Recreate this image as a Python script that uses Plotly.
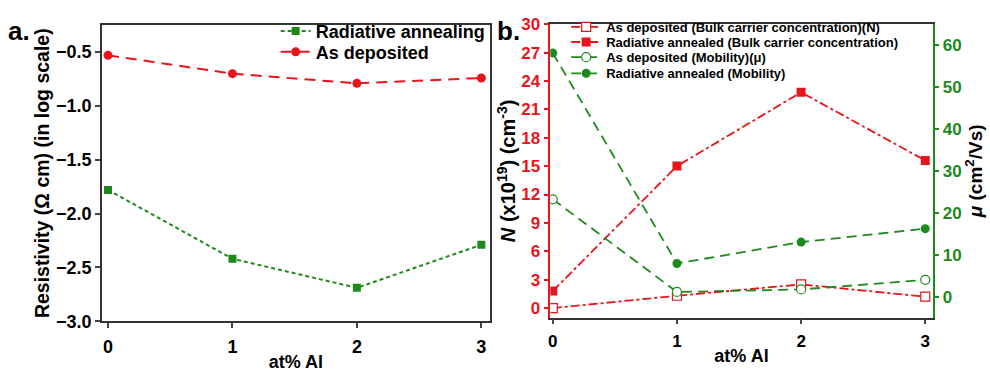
import plotly.graph_objects as go

# Al content (at%)
al_pct = [0, 1, 2, 3]

# Panel a: resistivity, log10(Ω cm)
rho_annealed = [-1.78, -2.42, -2.69, -2.29]
rho_deposited = [-0.53, -0.70, -0.79, -0.74]

# Panel b: bulk carrier concentration (x10^19 cm^-3) and mobility (cm^2/Vs)
n_deposited = [0.0, 1.3, 2.5, 1.2]
n_annealed = [1.8, 15.0, 22.8, 15.6]
mu_deposited = [23.2, 1.1, 1.7, 4.0]
mu_annealed = [58.1, 7.9, 13.0, 16.2]

RED = "#e8141c"
GREEN = "#1e8a1e"
FONT = "Liberation Sans, Arial, sans-serif"

fig = go.Figure()

# ---- panel a ----
fig.add_trace(go.Scatter(
    x=al_pct, y=rho_annealed, name="Radiative annealing",
    mode="lines+markers", xaxis="x", yaxis="y", legend="legend",
    line=dict(color=GREEN, width=2, dash="4px,3px"),
    marker=dict(symbol="square", size=8, color=GREEN)))
fig.add_trace(go.Scatter(
    x=al_pct, y=rho_deposited, name="As deposited",
    mode="lines+markers", xaxis="x", yaxis="y", legend="legend2",
    line=dict(color=RED, width=2, dash="11px,7px"),
    marker=dict(symbol="circle", size=9, color=RED)))

# ---- panel b ----
fig.add_trace(go.Scatter(
    x=al_pct, y=n_deposited, name="As deposited (Bulk carrier concentration)(N)",
    mode="lines+markers", xaxis="x2", yaxis="y2", legend="legend3",
    line=dict(color=RED, width=1.8, dash="dashdot"),
    marker=dict(symbol="square", size=9, color="white", line=dict(color=RED, width=1.2))))
fig.add_trace(go.Scatter(
    x=al_pct, y=n_annealed, name="Radiative annealed (Bulk carrier concentration)",
    mode="lines+markers", xaxis="x2", yaxis="y2", legend="legend4",
    line=dict(color=RED, width=1.8, dash="dashdot"),
    marker=dict(symbol="square", size=9, color=RED)))
fig.add_trace(go.Scatter(
    x=al_pct, y=mu_deposited, name="As deposited (Mobility)(μ)",
    mode="lines+markers", xaxis="x2", yaxis="y3", legend="legend5",
    line=dict(color=GREEN, width=1.8, dash="10px,6px"),
    marker=dict(symbol="circle", size=9, color="white", line=dict(color=GREEN, width=1.2))))
fig.add_trace(go.Scatter(
    x=al_pct, y=mu_annealed, name="Radiative annealed (Mobility)",
    mode="lines+markers", xaxis="x2", yaxis="y3", legend="legend6",
    line=dict(color=GREEN, width=1.8, dash="10px,6px"),
    marker=dict(symbol="circle", size=9, color=GREEN)))

bold = dict(family=FONT, color="black", weight="bold")

axis_common = dict(showgrid=False, zeroline=False, showline=True, linewidth=1.5,
                   ticks="outside", ticklen=5, tickwidth=1.5)


def legend_at(x, top_px, size):
    return dict(visible=True, x=x, y=1 - top_px / 372, xanchor="left", yanchor="top",
                bgcolor="rgba(0,0,0,0)", font=dict(size=size, **bold),
                itemwidth=30, tracegroupgap=0)


fig.update_layout(
    width=990, height=372,
    margin=dict(l=0, r=0, t=0, b=0),
    paper_bgcolor="white", plot_bgcolor="white",
    showlegend=True,
    font=dict(family=FONT, color="black"),
    xaxis=dict(domain=[0.101, 0.494], anchor="y", range=[-0.05, 3.07],
               tickvals=al_pct, mirror=True, linecolor="#333333",
               tickfont=dict(size=18, **bold), ticklabelstandoff=3,
               title=dict(text="at% Al", font=dict(size=18, **bold), standoff=1),
               **axis_common),
    yaxis=dict(domain=[0.1156, 0.954], anchor="x", range=[-3.0, -0.25],
               tickvals=[-3.0, -2.5, -2.0, -1.5, -1.0, -0.5], tickformat=".1f",
               mirror=True, linecolor="#333333",
               tickfont=dict(size=18, **bold),
               title=dict(text="Resistivity (Ω cm) (in log scale)",
                          font=dict(size=19.5, **bold), standoff=1),
               **axis_common),
    xaxis2=dict(domain=[0.555, 0.942], anchor="y2", range=[-0.02, 3.06],
                tickvals=al_pct, mirror=True, linecolor="#333333",
                tickfont=dict(size=17, **bold), ticklabelstandoff=2,
                title=dict(text="at% Al", font=dict(size=18, **bold), standoff=0),
                **axis_common),
    yaxis2=dict(domain=[0.126, 0.957], anchor="x2", range=[-1, 30],
                tickvals=list(range(0, 31, 3)), linecolor=RED, tickcolor=RED,
                tickfont=dict(size=17, family=FONT, color=RED, weight="bold"),
                title=dict(text="<i>N</i> (x10<sup>19</sup>) (cm<sup>-3</sup>)",
                           font=dict(size=20, **bold), standoff=0),
                **axis_common),
    yaxis3=dict(overlaying="y2", anchor="x2", side="right", range=[-5, 65],
                tickvals=list(range(0, 61, 10)), linecolor=GREEN, tickcolor=GREEN,
                tickfont=dict(size=17, family=FONT, color=GREEN, weight="bold"),
                title=dict(text="<i>μ</i> (cm<sup>2</sup>/Vs)",
                           font=dict(size=19, **bold), standoff=8),
                **axis_common),
    legend=legend_at(0.277, 4, 18),
    legend2=legend_at(0.277, 26, 18),
    legend3=legend_at(0.571, 3, 13),
    legend4=legend_at(0.571, 19, 13),
    legend5=legend_at(0.571, 35, 13),
    legend6=legend_at(0.571, 52, 13),
    annotations=[
        dict(text="a.", x=0.004, y=0.985, xref="paper", yref="paper",
             xanchor="left", yanchor="top", showarrow=False,
             font=dict(size=26, **bold)),
        dict(text="b.", x=0.499, y=0.985, xref="paper", yref="paper",
             xanchor="left", yanchor="top", showarrow=False,
             font=dict(size=26, **bold)),
    ],
)

fig.write_html("out.html")
